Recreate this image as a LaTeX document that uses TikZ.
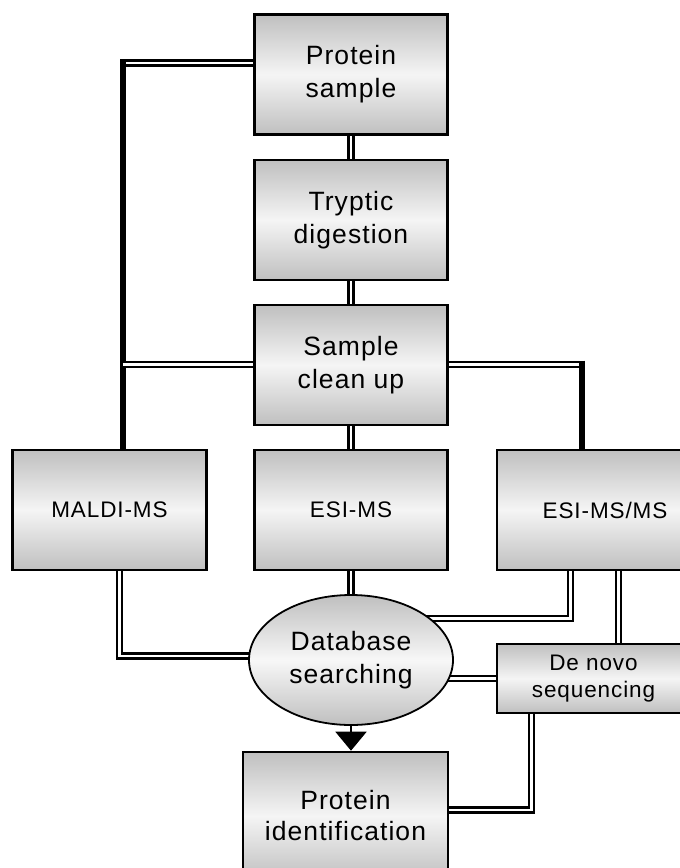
\documentclass[tikz,border=0pt]{standalone}
\usepackage{fontspec}
\setmainfont{Liberation Sans}[LetterSpace=4]
\usetikzlibrary{arrows.meta,backgrounds,shapes.geometric}
\newcommand\fbig{\fontsize{26.5}{33}\selectfont}
\newcommand\fsmall{\fontsize{22.5}{27}\selectfont}
\begin{document}
\begin{tikzpicture}[x=1pt,y=-1pt,
  box/.style={draw, line width=2.6pt, top color=black!25, bottom color=black!25, middle color=black!4,
    inner sep=0pt, align=center, font=\fbig},
  dbl/.style={draw, double, line width=2.8pt, double distance=2.2pt},
  thk/.style={draw, line width=6pt}]
\clip (0,0) rectangle (680,868);
\node[box, minimum width=193pt, minimum height=120pt] (ps) at (351,74.5) {Protein\\sample};
\node[box, minimum width=193pt, minimum height=120pt] (td) at (351,220) {Tryptic\\digestion};
\node[box, minimum width=193pt, minimum height=120pt] (sc) at (351,365) {Sample\\clean up};
\node[box, minimum width=194pt, minimum height=120pt, font=\fsmall] (maldi) at (109.5,510) {MALDI-MS};
\node[box, minimum width=193pt, minimum height=120pt, font=\fsmall] (esims) at (351,510) {ESI-MS};
\node[box, minimum width=216pt, minimum height=120pt, font=\fsmall] (esimsms) at (605,510) {ESI-MS/MS};
\node[ellipse, draw, line width=1.8pt, top color=black!25, bottom color=black!25, middle color=black!3,
  inner sep=0pt, minimum width=204pt, minimum height=130pt, align=center, font=\fbig] (db) at (351,660) {Database\\searching};
\node[box, minimum width=193pt, minimum height=69pt, font=\fsmall] (denovo) at (593.5,678.5) {De novo\\sequencing};
\node[box, minimum width=205pt, minimum height=128pt, font=\fontsize{26.5}{31}\selectfont] (protid) at (345.5,816) {Protein\\identification};
\coordinate (l1) at (123,63);
\coordinate (l2) at (123,364.5);
\coordinate (r1) at (582,364.5);
\coordinate (m1) at (119.5,656);
\coordinate (e1) at (570.5,618.5);
\coordinate (e2) at (618.5,600);
\coordinate (d2) at (531.5,810);
\begin{scope}[on background layer]
\draw[dbl] (ps.center) -- (td.center);
\draw[dbl] (td.center) -- (sc.center);
\draw[dbl] (sc.center) -- (esims.center);
\draw[dbl] (esims.center) -- (db.center);
\draw[dbl] (ps.center |- l1) -- (l1);
\draw[thk] ([yshift=3.9pt]l1) -- (l1 |- maldi.center);
\draw[dbl] (l2) -- (l2 -| sc.center);
\draw[dbl] (sc.center |- r1) -- (r1);
\draw[thk] ([yshift=3.9pt]r1) -- (r1 |- esimsms.center);
\draw[dbl] (maldi.center -| m1) -- (m1) -- (m1 -| db.center);
\draw[dbl] (esimsms.center -| e1) -- (e1) -- (e1 -| db.center);
\draw[dbl] (esimsms.center -| e2) -- (denovo.center -| e2);
\draw[dbl] (denovo.center) -- (denovo.center -| db.center);
\draw[dbl] (denovo.center -| d2) -- (d2) -- (d2 -| protid.center);
\end{scope}
\draw[line width=2pt, -{Triangle[width=31pt,length=19pt]}] (db.south) -- (db.south |- protid.north);
\end{tikzpicture}
\end{document}
